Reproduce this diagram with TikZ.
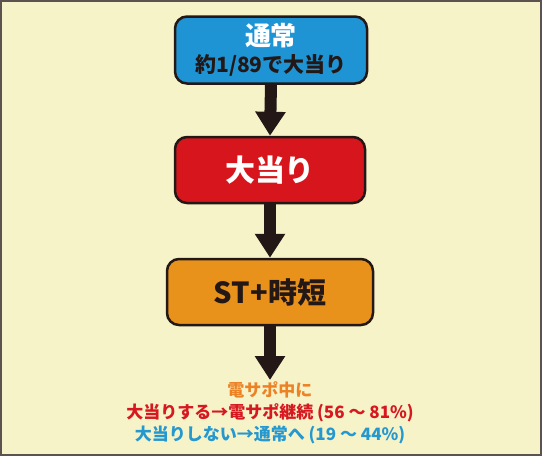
\documentclass[tikz,border=0pt]{standalone}
\usepackage{fontspec}
\setmainfont{Noto Sans CJK JP}
\usetikzlibrary{arrows.meta}
\definecolor{pachibg}{RGB}{247, 243, 201}
\definecolor{pachiframe}{RGB}{92, 82, 80}
\definecolor{pachidark}{RGB}{35, 24, 21}
\definecolor{pachiblue}{RGB}{30, 148, 212}
\definecolor{pachired}{RGB}{214, 22, 28}
\definecolor{pachiorange}{RGB}{232, 146, 28}
\definecolor{noteorange}{RGB}{236, 130, 38}
\definecolor{notered}{RGB}{214, 24, 32}
\definecolor{noteblue}{RGB}{38, 152, 208}
\tikzset{
  statebox/.style={draw=pachidark,line width=2.5pt,rounded corners=12pt,align=center,font=\bfseries,inner sep=0pt},
  flowarrow/.style={pachidark,line width=12pt,-{Triangle[width=29pt,length=24pt]}}
}

\begin{document}
\begin{tikzpicture}[x=1pt,y=-1pt]
        %\draw[step=20pt,gray,very thin] (0,0) grid (542,456);
        \useasboundingbox (0,0) rectangle (542,456);
        \draw[fill=pachibg,draw=pachiframe,line width=2pt] (1,1) rectangle (541,455);
        \node[statebox,fill=pachiblue,minimum width=192pt,minimum height=67pt] (normal) at (271,50)
          {{\color{white}\fontsize{26}{28}\selectfont 通常}\\[5pt]{\color{pachidark}\fontsize{21}{24}\selectfont 約1/89で大当り}};
        \node[statebox,fill=pachired,minimum width=190pt,minimum height=66pt,text=white] (hit) at (270,170)
          {\fontsize{30}{32}\selectfont 大当り};
        \node[statebox,fill=pachiorange,minimum width=206pt,minimum height=66pt,text=pachidark] (st) at (270,292)
          {\fontsize{29}{31}\selectfont ST+時短};
        \node[align=center,font=\bfseries\fontsize{17}{22}\selectfont,inner sep=1pt,anchor=north] (note) at (270,380)
          {{\color{noteorange}電サポ中に}\\{\color{notered}大当りする→電サポ継続 (56 ～ 81\%)}\\{\color{noteblue}大当りしない→通常へ (19 ～ 44\%)}};
        \draw[flowarrow] (normal.south) -- (hit.north);
        \draw[flowarrow] (hit.south) -- (st.north);
        \draw[flowarrow] (st.south) -- (note.north);
      \end{tikzpicture}
\end{document}
